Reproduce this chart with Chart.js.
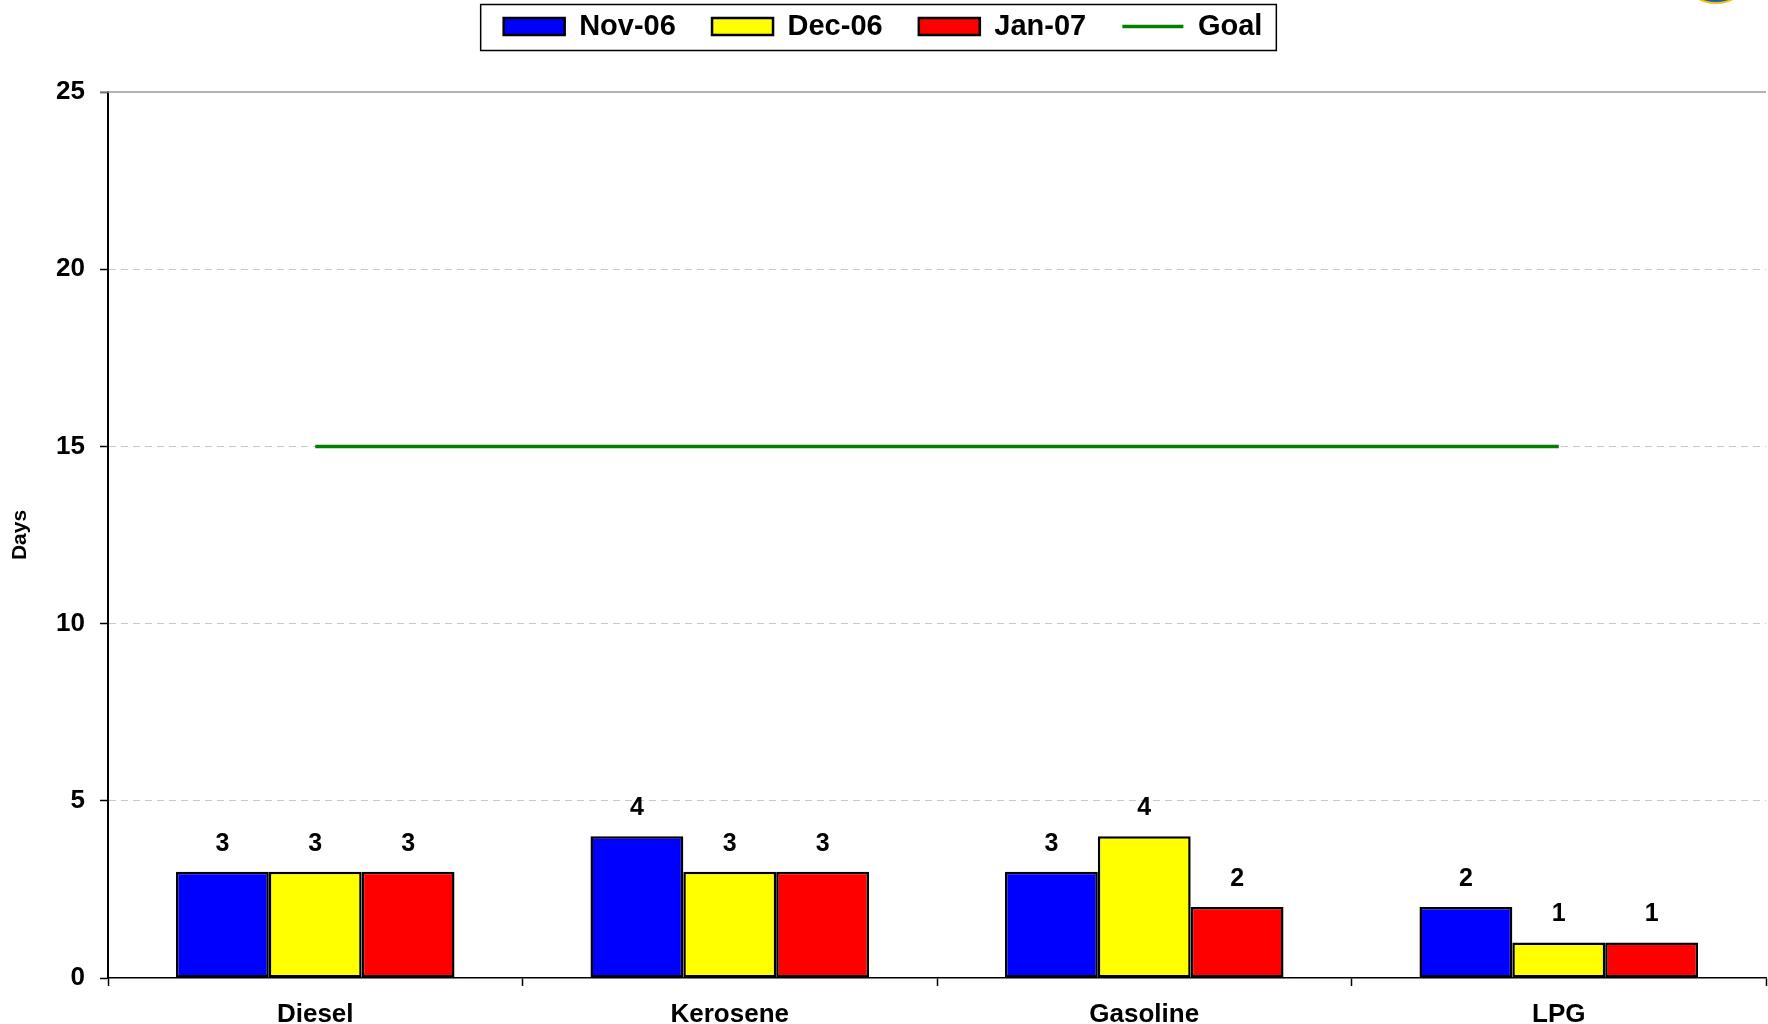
<!DOCTYPE html>
<html>
<head>
<meta charset="utf-8">
<script src="https://cdn.jsdelivr.net/npm/chart.js@4.4.1/dist/chart.umd.min.js"></script>
<style>
  body { margin: 0; background: #fff; }
  #wrap { position: relative; width: 1768px; height: 1024px; overflow: hidden; }
  #logo { position: absolute; left: 1690px; top: -28px; width: 48px; height: 28px;
          border-radius: 50%; background: #1f5fb0; border: 2px solid #f2c200; }
</style>
</head>
<body>
<div id="wrap">
  <canvas id="myChart" width="1768" height="1024"></canvas>
  <div id="logo"></div>
</div>
<script>
const categories = ['Diesel', 'Kerosene', 'Gasoline', 'LPG'];
const nov06 = [3, 4, 3, 2];
const dec06 = [3, 3, 4, 1];
const jan07 = [3, 3, 2, 1];
const goal = [15, 15, 15, 15];
const yTicks = [0, 5, 10, 15, 20, 25];

const FONT = "'Liberation Sans', Arial, sans-serif";

// values above the bars
const valueLabels = {
  id: 'valueLabels',
  afterDatasetsDraw(chart) {
    const ctx = chart.ctx;
    ctx.save();
    ctx.font = 'bold 25px ' + FONT;
    ctx.fillStyle = '#000';
    ctx.textAlign = 'center';
    ctx.textBaseline = 'middle';
    chart.data.datasets.forEach((ds, i) => {
      if (ds.type === 'line') return;
      chart.getDatasetMeta(i).data.forEach((el, j) => {
        ctx.fillText(ds.data[j], el.x, el.y - 28);
      });
    });
    ctx.restore();
  }
};

// box round the legend and solid line at the top of the plot
const frame = {
  id: 'frame',
  afterDraw(chart) {
    const ctx = chart.ctx;
    const area = chart.chartArea;
    ctx.save();
    ctx.strokeStyle = '#999';
    ctx.lineWidth = 1.5;
    ctx.beginPath();
    ctx.moveTo(area.left - 8, area.top);
    ctx.lineTo(area.right, area.top);
    ctx.stroke();

    const boxes = chart.legend.legendHitBoxes;
    if (boxes && boxes.length) {
      const first = boxes[0];
      const last = boxes[boxes.length - 1];
      const mid = first.top + first.height / 2;
      ctx.strokeStyle = '#000';
      ctx.lineWidth = 1.5;
      ctx.strokeRect(first.left - 23, mid - 22, last.left + last.width + 14 - (first.left - 23), 46);
    }
    ctx.restore();
  }
};

const barStyle = (label, data, color) => ({
  label: label,
  data: data,
  backgroundColor: color,
  borderColor: '#000',
  borderWidth: 2.5,
  borderSkipped: false,
  pointStyle: 'rect',
  categoryPercentage: 0.672,
  barPercentage: 1.0
});

const data = {
  labels: categories,
  datasets: [
    barStyle('Nov-06   ', nov06, '#0000ff'),
    barStyle('Dec-06   ', dec06, '#ffff00'),
    barStyle('Jan-07   ', jan07, '#ff0000'),
    {
      type: 'line',
      label: 'Goal',
      data: goal,
      borderColor: '#008000',
      backgroundColor: '#008000',
      borderWidth: 3.5,
      pointRadius: 0,
      pointStyle: 'line',
      fill: false
    }
  ]
};

const config = {
  type: 'bar',
  data,
  plugins: [valueLabels, frame],
  options: {
    responsive: false,
    animation: false,
    layout: { padding: { top: 0, left: 0, right: 2, bottom: 0 } },
    plugins: {
      legend: {
        position: 'top',
        labels: {
          usePointStyle: true,
          pointStyleWidth: 61,
          boxHeight: 17,
          padding: 12,
          color: '#000',
          font: { family: FONT, size: 29, weight: 'bold' }
        }
      },
      title: {
        display: true,
        text: '',
        weight: 500,
        font: { size: 9, lineHeight: 1 },
        padding: 16
      },
      tooltip: { enabled: false }
    },
    scales: {
      x: {
        offset: true,
        grid: {
          offset: true,
          drawOnChartArea: false,
          drawTicks: true,
          tickLength: 8,
          tickColor: '#000',
          tickWidth: 1.5
        },
        border: { color: '#000', width: 1.5 },
        ticks: {
          color: '#000',
          padding: 13,
          font: { family: FONT, size: 26, weight: 'bold' }
        },
        afterFit(scale) { scale.height = 46; }
      },
      y: {
        min: 0,
        max: 25,
        afterBuildTicks(scale) { scale.ticks = yTicks.map(v => ({ value: v })); },
        grid: {
          color: ctx => (ctx.tick && (ctx.tick.value === 0 || ctx.tick.value === 25)) ? 'rgba(0,0,0,0)' : '#c8c8c8',
          lineWidth: 1,
          tickLength: 8,
          tickColor: '#000',
          tickWidth: 1.5,
          tickBorderDash: []
        },
        border: { color: '#000', width: 2, dash: [7, 5] },
        ticks: {
          color: '#000',
          padding: 15,
          font: { family: FONT, size: 26, weight: 'bold' }
        },
        title: {
          display: true,
          text: 'Days',
          color: '#000',
          padding: { top: 8, bottom: 0 },
          font: { family: FONT, size: 21, weight: 'bold' }
        },
        afterFit(scale) { scale.width = 108; }
      }
    }
  }
};

var myChart = new Chart(document.getElementById('myChart'), config);
</script>
</body>
</html>
